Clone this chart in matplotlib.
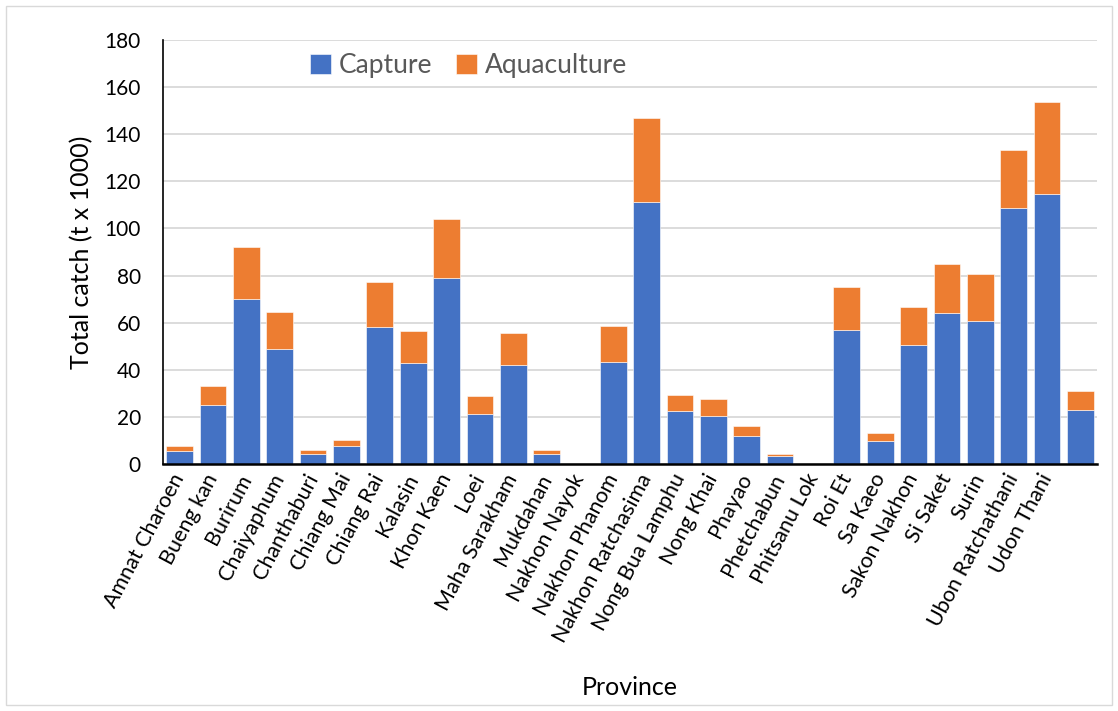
import matplotlib.pyplot as plt
from matplotlib.patches import Rectangle

provinces = ["Amnat Charoen", "Bueng kan", "Burirum", "Chaiyaphum", "Chanthaburi",
             "Chiang Mai", "Chiang Rai", "Kalasin", "Khon Kaen", "Loei",
             "Maha Sarakham", "Mukdahan", "Nakhon Nayok", "Nakhon Phanom",
             "Nakhon Ratchasima", "Nong Bua Lamphu", "Nong Khai", "Phayao",
             "Phetchabun", "Phitsanu Lok", "Roi Et", "Sa Kaeo", "Sakon Nakhon",
             "Si Saket", "Surin", "Ubon Ratchathani", "Udon Thani", ""]

# capture and aquaculture catch, t x 1000
capture = [5.5, 25.1, 69.9, 48.8, 4.4, 7.5, 58.0, 42.8, 78.8, 21.4,
           42.0, 4.4, 0.0, 43.5, 111.3, 22.3, 20.4, 12.0, 3.3, 0.0,
           57.1, 9.9, 50.5, 64.3, 60.9, 108.6, 114.7, 23.1]
aquaculture = [2.0, 8.1, 22.2, 15.7, 1.6, 2.6, 19.4, 13.7, 25.2, 7.5,
               13.6, 1.6, 0.0, 15.2, 35.5, 7.0, 7.1, 4.0, 1.0, 0.0,
               18.2, 3.4, 16.1, 20.6, 19.6, 24.6, 39.2, 7.9]

yticks = [0, 20, 40, 60, 80, 100, 120, 140, 160, 180]

plt.rcParams['font.family'] = ['Lato', 'DejaVu Sans']

fig = plt.figure(figsize=(11.18, 7.11), dpi=100)
ax = fig.add_axes([0.1458, 0.3474, 0.8354, 0.5963])

# light chart-area border like the spreadsheet export
fig.patches.append(Rectangle((0.005, 0.008), 0.99, 0.983, transform=fig.transFigure,
                             fill=False, edgecolor="#d9d9d9", linewidth=1))

x = range(len(provinces))
ax.bar(x, capture, width=0.8, color="#4472C4", edgecolor="white", linewidth=0.4,
       label="Capture", zorder=3)
ax.bar(x, aquaculture, width=0.8, bottom=capture, color="#ED7D31", edgecolor="white",
       linewidth=0.4, label="Aquaculture", zorder=3)

ax.set_xlim(-0.5, len(provinces) - 0.5)
ax.set_ylim(0, 180)
ax.set_yticks(yticks)
ax.yaxis.grid(True, color="#d9d9d9", linewidth=1.3, zorder=0)
ax.set_axisbelow(True)

for side in ["top", "right"]:
    ax.spines[side].set_visible(False)
ax.spines["left"].set_color("black")
ax.spines["left"].set_linewidth(1.2)
ax.spines["bottom"].set_color("black")
ax.spines["bottom"].set_linewidth(1.8)
ax.spines["bottom"].set_zorder(4)

ax.tick_params(axis="y", length=0, pad=16, labelsize=15)
ax.tick_params(axis="x", length=0, pad=8, labelsize=15.5)
ax.set_xticks(list(x))
ax.set_xticklabels(provinces, rotation=62, ha="right", va="center",
                   rotation_mode="anchor")

ax.set_ylabel("Total catch (t x 1000)", fontsize=18, labelpad=8)
ax.set_xlabel("Province", fontsize=18)
ax.xaxis.set_label_coords(0.5, -0.5)

ax.legend(loc="center", bbox_to_anchor=(0.327, 0.94), ncol=2, frameon=False,
          fontsize=19, labelcolor="#595959", handlelength=0.8, handleheight=0.8,
          handletextpad=0.3, columnspacing=0.9)

fig.savefig("out.png", dpi=100)
